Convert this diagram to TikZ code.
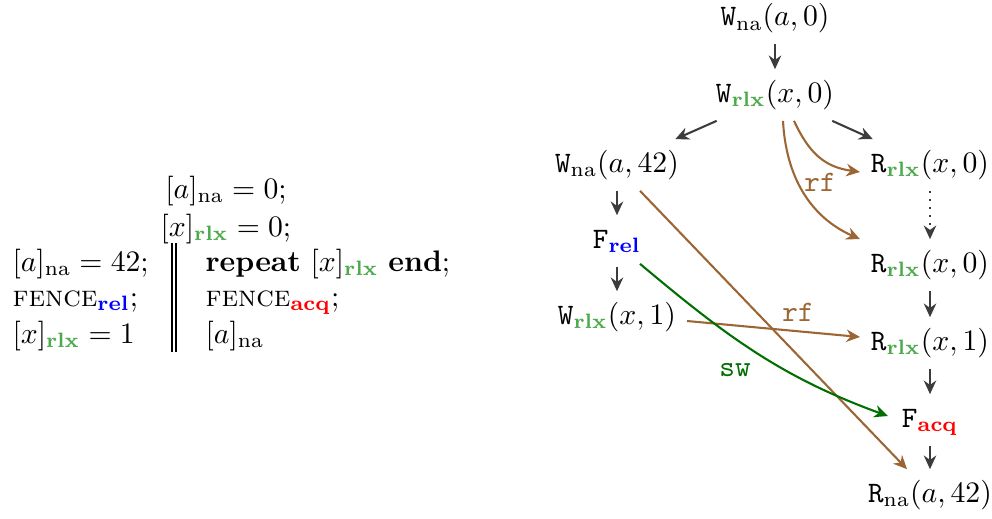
\documentclass[tikz,border=0pt]{standalone}
\usepackage{amsmath}
\usetikzlibrary{arrows.meta,calc}
\definecolor{rlxg}{RGB}{76,170,76}
\definecolor{rfbrown}{RGB}{155,102,51}
\definecolor{swgreen}{RGB}{0,110,0}
\definecolor{arrgray}{RGB}{60,60,60}
\newcommand{\rlxs}{\textcolor{rlxg}{\mathbf{rlx}}}
\newcommand{\rels}{\textcolor{blue}{\mathbf{rel}}}
\newcommand{\acqs}{\textcolor{red}{\mathbf{acq}}}
\newcommand{\nas}{\mathrm{na}}
\begin{document}
\begin{tikzpicture}[x=0.3367pt,y=-0.3367pt,
  ev/.style={inner sep=3.5pt, text height=7.5pt, text depth=2.5pt},
  code/.style={inner sep=0pt},
  tipst/.style={-{Stealth[length=4.6pt,width=4.2pt]}},
  po/.style={draw=arrgray, line width=0.7pt, tipst},
  rfarr/.style={draw=rfbrown, line width=0.7pt, tipst},
  swarr/.style={draw=swgreen, line width=0.7pt, tipst},
  lab/.style={font=\ttfamily, inner sep=1pt}]
\useasboundingbox (0,0) rectangle (992,518);

% program
\node[code,anchor=base] (c1) at (226,198) {$[a]_{\nas} = 0;$};
\node[code,anchor=base] (c2) at (226,236) {$[x]_{\rlxs} = 0;$};
\node[code,anchor=base west] (l1) at (12,271) {$[a]_{\nas} = 42;$};
\node[code,anchor=base west] (l2) at (12,306) {\textsc{fence}$_{\rels}$;};
\node[code,anchor=base west] (l3) at (12,343) {$[x]_{\rlxs} = 1$};
\node[code,anchor=base west] (r1) at (205,271) {\textbf{repeat} $[x]_{\rlxs}$ \textbf{end};};
\node[code,anchor=base west] (r2) at (205,306) {\textsc{fence}$_{\acqs}$;};
\node[code,anchor=base west] (r3) at (205,343) {$[a]_{\nas}$};
\draw[line width=0.4pt] (172,243) -- (172,352) (176,243) -- (176,352);

% events
\node[ev] (a0) at (775,18.5) {\texttt{W}$_{\nas}(a,0)$};
\node[ev] (x0) at (775,95) {\texttt{W}$_{\rlxs}(x,0)$};
\node[ev] (a42) at (617,165) {\texttt{W}$_{\nas}(a,42)$};
\node[ev] (rx0a) at (930,165) {\texttt{R}$_{\rlxs}(x,0)$};
\node[ev] (frel) at (617,241) {\texttt{F}$_{\rels}$};
\node[ev] (rx0b) at (930,265) {\texttt{R}$_{\rlxs}(x,0)$};
\node[ev] (wx1) at (617,317) {\texttt{W}$_{\rlxs}(x,1)$};
\node[ev] (rx1) at (930,343) {\texttt{R}$_{\rlxs}(x,1)$};
\node[ev] (facq) at (930,420) {\texttt{F}$_{\acqs}$};
\node[ev] (rna) at (930,495) {\texttt{R}$_{\nas}(a,42)$};

% program order
\draw[po] (a0) -- (x0);
\draw[po] (x0) -- (a42);
\draw[po] (x0) -- (rx0a);
\draw[po] (a42) -- (frel);
\draw[po] (frel) -- (wx1);
\draw[po,dotted] (rx0a) -- (rx0b);
\draw[po] (rx0b) -- (rx1);
\draw[po] (rx1) -- (facq);
\draw[po] (facq) -- (rna);

% reads-from
\draw[rfarr] ($(x0.south)+(8,0)$) to[out=-87,in=156] (rx0b.north west);
\draw[rfarr] ($(x0.south)+(19,0)$) to[out=-65,in=172,looseness=1.1] ($(rx0a.west)+(0,7)$);
\node[lab,text=rfbrown] (rf1) at (820,182) {rf};
\draw[rfarr] ($(a42.south)+(23,0)$) -- ($(rna.north)+(-23,0)$);
\draw[rfarr] ($(wx1.east)+(0,4)$) -- ($(rx1.west)+(0,-6)$);
\node[lab,text=rfbrown] (rf2) at (798,312) {rf};

% synchronises-with
\draw[swarr] ($(frel.south)+(23,-3)$) to[out=-40,in=160] ($(facq.west)+(-3,-4)$);
\node[lab,text=swgreen] (sw) at (735,370) {sw};
\end{tikzpicture}
\end{document}
